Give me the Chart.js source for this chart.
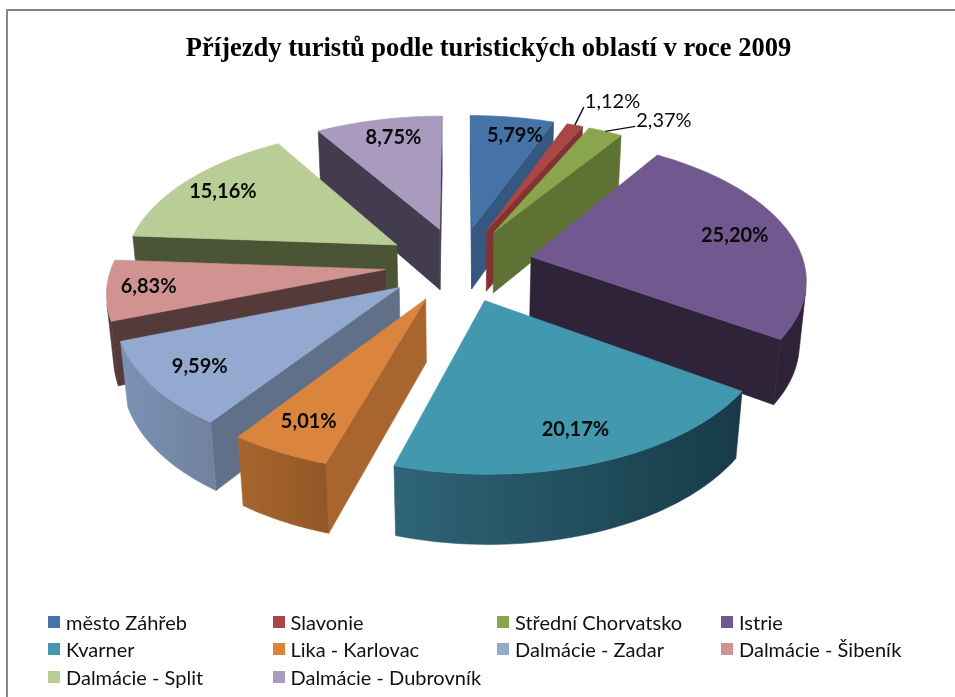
<!DOCTYPE html>
<html>
<head>
<meta charset="utf-8">
<title>Příjezdy turistů</title>
<script src="https://cdn.jsdelivr.net/npm/chart.js@4"></script>
<style>
    html, body { margin: 0; padding: 0; background: #fff; overflow: hidden; }
    #wrap { position: relative; width: 955px; height: 697px; }
    #frame { position: absolute; left: 6px; top: 9px; right: -4px; bottom: -4px; border: 2px solid #858585; }
    #pie { position: absolute; left: 0; top: 0; }
    #legend { position: absolute; left: 48px; top: 608px; display: grid; grid-template-columns: 224.5px 224.5px 224px 224px; grid-auto-rows: 27.5px; font: 20px Lato, sans-serif; color: #111; }
    #legend div { display: flex; align-items: center; white-space: nowrap; }
    #legend i { width: 12px; height: 12px; margin-right: 6px; flex: none; }
</style>
</head>
<body>
<div id="wrap">
    <div id="frame"></div>
    <canvas id="pie" width="955" height="697"></canvas>
    <div id="legend"></div>
</div>
<script>
const titleText = 'Příjezdy turistů podle turistických oblastí v roce 2009';
const regions = ['město Záhřeb', 'Slavonie', 'Střední Chorvatsko', 'Istrie', 'Kvarner', 'Lika - Karlovac', 'Dalmácie - Zadar', 'Dalmácie - Šibeník', 'Dalmácie - Split', 'Dalmácie - Dubrovník'];
const shares = [5.79, 1.12, 2.37, 25.20, 20.17, 5.01, 9.59, 6.83, 15.16, 8.75];

const topColors = ['#4572a7', '#aa4643', '#89a54e', '#71588f', '#4198af', '#db843d', '#93a9cf', '#d19392', '#b9cd96', '#a99bbd'];
const sideColors = ['#34587f', '#823232', '#5e7233', '#2e2339', '#1d4653', '#a8662e', '#5f7088', '#553a3a', '#4c5436', '#433c4e'];
// outer wall shading, clockwise start -> end
const wallStart = ['#34587f', '#823232', '#5e7233', '#2e2339', '#173a47', '#935726', '#70829f', '#553a3a', '#4c5436', '#433c4e'];
const wallEnd = ['#34587f', '#823232', '#5e7233', '#2e2339', '#2e6577', '#a8662e', '#7c92b4', '#553a3a', '#4c5436', '#433c4e'];
// the two thin slices get their label outside, on a leader
const leaders = { 1: [9, -18], 2: [30, -5] };
// small sideways label corrections, px
const labelNudge = [9, 0, 0, -8, 0, 0, 0, -9, 0, 5];

// camera for the tilted pie
const cx = 459, cy = 264, scaleX = 273, scaleY = 138, persp = 0.14, depth = 62, sink = 0.02;

function project(x, y, low) {
    const w = 1 + persp * y;
    if (!low) return { x: cx + scaleX * x / w, y: cy - scaleY * y / w };
    return { x: cx + scaleX * x / (w + sink), y: cy - scaleY * y / (w + sink) + depth / w };
}

function fillPoly(ctx, pts, color) {
    ctx.beginPath();
    pts.forEach((p, i) => i ? ctx.lineTo(p.x, p.y) : ctx.moveTo(p.x, p.y));
    ctx.closePath();
    ctx.fillStyle = color;
    ctx.strokeStyle = color;
    ctx.lineWidth = 0.6;
    ctx.fill();
    ctx.stroke();
}

function wallVisible(p, q) {
    const a = project(p.x, p.y, false), b = project(q.x, q.y, false);
    const c = project(q.x, q.y, true), d = project(p.x, p.y, true);
    const area = [[a, b], [b, c], [c, d], [d, a]].reduce((s, [m, n]) => s + m.x * n.y - n.x * m.y, 0);
    return area < 0;
}

function drawFlatWall(ctx, p, q, color) {
    if (!wallVisible(p, q)) return;
    fillPoly(ctx, [project(p.x, p.y, false), project(q.x, q.y, false), project(q.x, q.y, true), project(p.x, p.y, true)], color);
}

// rounded outer wall: one polygon over the visible part of the rim, with a left-right gradient
function drawRimWall(ctx, rim, i) {
    const run = [];
    for (let s = 0; s < rim.length - 1; s++) {
        if (wallVisible(rim[s], rim[s + 1])) {
            if (!run.length) run.push(rim[s]);
            run.push(rim[s + 1]);
        }
    }
    if (!run.length) return;
    const upper = run.map(p => project(p.x, p.y, false));
    const lower = run.map(p => project(p.x, p.y, true)).reverse();
    const first = upper[0], last = upper[upper.length - 1];
    const grad = ctx.createLinearGradient(first.x, 0, last.x, 0);
    grad.addColorStop(0, wallStart[i]);
    grad.addColorStop(1, wallEnd[i]);
    fillPoly(ctx, upper.concat(lower), grad);
}

// plane coordinates of a slice, read from the arc element
function sliceGeometry(arc, index) {
    const R = arc.outerRadius;
    const e = arc.options.offset / R;
    const start = arc.startAngle + Math.PI / 2, end = arc.endAngle + Math.PI / 2;
    const mid = (start + end) / 2;
    const apex = { x: e * Math.sin(mid), y: e * Math.cos(mid) };
    const at = (ang, u) => ({ x: apex.x + u * Math.sin(ang), y: apex.y + u * Math.cos(ang) });
    const rim = [];
    const steps = Math.max(2, Math.ceil((end - start) / 0.03));
    for (let s = 0; s <= steps; s++) rim.push(at(start + (end - start) * s / steps, 1));
    return { index, apex, rim, mid, at };
}

const solidPie = {
    id: 'solidPie',
    beforeDatasetsDraw(chart) {
        const ctx = chart.ctx;
        const slices = chart.getDatasetMeta(0).data.map(sliceGeometry);
        const order = slices.slice().sort((a, b) => project(a.apex.x, a.apex.y).y - project(b.apex.x, b.apex.y).y);

        order.forEach(sl => {
            const i = sl.index, n = sl.rim.length - 1;
            drawFlatWall(ctx, sl.apex, sl.rim[0], sideColors[i]);
            drawFlatWall(ctx, sl.rim[n], sl.apex, sideColors[i]);
            drawRimWall(ctx, sl.rim, i);
            fillPoly(ctx, [sl.apex, ...sl.rim].map(p => project(p.x, p.y, false)), topColors[i]);
        });

        ctx.textBaseline = 'middle';
        slices.forEach(sl => {
            const i = sl.index;
            const text = shares[i].toFixed(2).replace('.', ',') + '%';
            ctx.fillStyle = '#0a0a0a';
            if (leaders[i]) {
                const from = sl.at(sl.mid, 1), p = project(from.x, from.y, false);
                const ex = p.x + leaders[i][0], ey = p.y + leaders[i][1];
                ctx.beginPath();
                ctx.moveTo(p.x, p.y);
                ctx.lineTo(ex, ey);
                ctx.strokeStyle = '#111';
                ctx.lineWidth = 1.4;
                ctx.stroke();
                ctx.font = '20px Lato';
                ctx.textAlign = 'left';
                ctx.fillText(text, ex + 1, ey - 6);
            } else {
                const c = sl.at(sl.mid, 0.82), p = project(c.x, c.y, false);
                ctx.font = 'bold 20px Lato';
                ctx.textAlign = 'center';
                ctx.fillText(text, p.x + labelNudge[i], p.y);
            }
        });
        return false;
    }
};

new Chart(document.getElementById('pie'), {
    type: 'pie',
    data: {
        labels: regions,
        datasets: [{ data: shares, backgroundColor: topColors, borderWidth: 0, offset: 75 }]
    },
    options: {
        responsive: false,
        animation: false,
        layout: { padding: { left: 22 } },
        plugins: {
            legend: { display: false },
            tooltip: { enabled: false },
            title: {
                display: true,
                text: titleText,
                color: '#000',
                font: { family: '"Liberation Serif"', size: 26.5, weight: 'bold' },
                padding: { top: 33, bottom: 4 }
            }
        }
    },
    plugins: [solidPie]
});

const legendEl = document.getElementById('legend');
regions.forEach((name, i) => {
    const row = document.createElement('div');
    row.innerHTML = `<i style="background:${topColors[i]}"></i>${name}`;
    legendEl.appendChild(row);
});
</script>
</body>
</html>
